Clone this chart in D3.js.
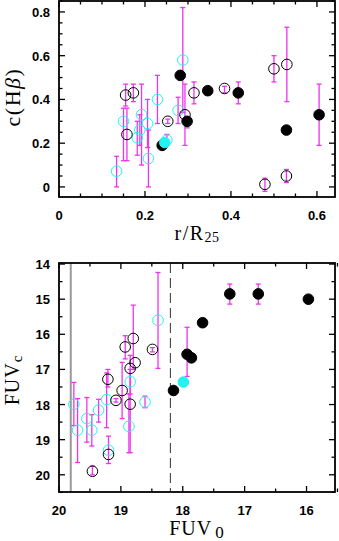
<!DOCTYPE html>
<html>
<head>
<meta charset="utf-8">
<script src="https://cdn.jsdelivr.net/npm/d3@7"></script>
<style>
  body { margin: 0; background: #fff; }
  .tick-label { font-family: "Liberation Sans", Arial, sans-serif; font-size: 13px; font-weight: bold; }
  .axis-title { font-family: "Liberation Serif", "DejaVu Serif", serif; }
</style>
</head>
<body>
<svg id="chart" width="339" height="541"></svg>
<script>
// top panel: [r/R25, c(Hb), errLow, errHigh]
const topCyanOpen = [
  [0.134, 0.072, 0.00, 0.14], [0.150, 0.30, 0.12, 0.36], [0.182, 0.225, 0.145, 0.30],
  [0.188, 0.26, 0.19, 0.33], [0.192, 0.33, 0.10, 0.47], [0.206, 0.29, 0.18, 0.40],
  [0.208, 0.13, 0.00, 0.26], [0.229, 0.40, 0.29, 0.51], [0.251, 0.214, 0.19, 0.24],
  [0.277, 0.35, 0.29, 0.41], [0.288, 0.58, 0.34, 0.82]
];
const topCyanFilled = [[0.246, 0.203, null, null]];
const topBlackOpen = [
  [0.155, 0.42, 0.37, 0.47], [0.158, 0.24, 0.12, 0.36], [0.173, 0.43, 0.39, 0.47],
  [0.253, 0.30, 0.29, 0.31], [0.293, 0.33, 0.19, 0.47], [0.314, 0.43, 0.38, 0.48],
  [0.385, 0.45, 0.43, 0.46], [0.479, 0.012, -0.02, 0.04], [0.500, 0.54, 0.48, 0.60],
  [0.530, 0.56, 0.39, 0.73], [0.529, 0.05, 0.02, 0.08]
];
const topBlackFilled = [
  [0.240, 0.19, null, null], [0.282, 0.51, null, null], [0.298, 0.30, 0.27, 0.32],
  [0.346, 0.44, null, null], [0.417, 0.43, 0.38, 0.48], [0.529, 0.26, null, null],
  [0.605, 0.33, 0.19, 0.47]
];

// bottom panel: [FUV0, FUVc, errLow, errHigh]
const botCyanOpen = [
  [19.76, 17.99, 17.37, 18.60], [19.70, 18.73, 17.83, 19.65], [19.55, 18.40, 17.80, 19.07],
  [19.47, 18.73, 18.29, 19.18], [19.36, 18.16, 17.85, 18.50], [19.23, 17.86, 17.10, 18.66],
  [19.20, 19.30, 18.90, 19.68], [18.85, 17.35, 17.00, 17.70], [18.87, 18.62, 17.70, 19.37],
  [18.61, 17.93, 17.76, 18.09], [18.40, 15.60, 14.24, 16.97]
];
const botCyanFilled = [[17.99, 17.36, 17.30, 17.45]];
const botBlackOpen = [
  [19.46, 19.90, 19.75, 20.00], [19.21, 17.28, 17.00, 17.50], [19.20, 19.42, null, null],
  [19.08, 17.88, 17.83, 17.93], [18.98, 17.60, 16.80, 18.40], [18.93, 16.36, 16.04, 16.70],
  [18.85, 16.97, 16.60, 19.37], [18.85, 17.99, null, null], [18.80, 16.12, 15.17, 17.00],
  [18.77, 16.81, null, null], [18.49, 16.43, 16.38, 16.50]
];
const botBlackFilled = [
  [18.15, 17.60, null, null], [17.93, 16.57, 15.80, 17.20], [17.86, 16.67, null, null],
  [17.68, 15.67, null, null], [17.24, 14.85, 14.57, 15.14], [16.78, 14.85, 14.57, 15.14],
  [15.97, 15.00, null, null]
];
const fuvLimitLine = 19.81;
const fuvDashedLine = 18.2;

const topXTicks = [0, 0.2, 0.4, 0.6];
const topYTicks = [0, 0.2, 0.4, 0.6, 0.8];
const botXTicks = [20, 19, 18, 17, 16];
const botYTicks = [14, 15, 16, 17, 18, 19, 20];

const cyan = "#22f2f2", magenta = "#ee33ee";
const svg = d3.select("#chart");

function drawPanel(opt) {
  const x = d3.scaleLinear().domain(opt.xDomain).range([opt.left, opt.right]);
  const y = d3.scaleLinear().domain(opt.yDomain).range([opt.bottom, opt.top]);
  const g = svg.append("g");

  // ticks on all sides, pointing inward
  const xMinor = d3.range(opt.xMinorStart, opt.xMinorEnd + 1e-9, opt.xMinorStep);
  const yMinor = d3.range(opt.yMinorStart, opt.yMinorEnd + 1e-9, opt.yMinorStep);
  const isMajor = (v, arr) => arr.some(t => Math.abs(t - v) < 1e-6);
  xMinor.forEach(v => {
    const len = isMajor(v, opt.xTicks) ? 6 : 3.5;
    g.append("line").attr("x1", x(v)).attr("x2", x(v)).attr("y1", opt.bottom).attr("y2", opt.bottom - len)
      .attr("stroke", "#000").attr("stroke-width", 1.3);
    g.append("line").attr("x1", x(v)).attr("x2", x(v)).attr("y1", opt.top).attr("y2", opt.top + len)
      .attr("stroke", "#000").attr("stroke-width", 1.3);
  });
  yMinor.forEach(v => {
    const len = isMajor(v, opt.yTicks) ? 6 : 3.5;
    g.append("line").attr("x1", opt.left).attr("x2", opt.left + len).attr("y1", y(v)).attr("y2", y(v))
      .attr("stroke", "#000").attr("stroke-width", 1.3);
    g.append("line").attr("x1", opt.right).attr("x2", opt.right - len).attr("y1", y(v)).attr("y2", y(v))
      .attr("stroke", "#000").attr("stroke-width", 1.3);
  });

  g.selectAll(".xl").data(opt.xTicks).enter().append("text")
    .attr("class", "tick-label").attr("x", d => x(d)).attr("y", opt.bottom + 23)
    .attr("text-anchor", "middle").text(d => opt.xFmt(d));
  g.selectAll(".yl").data(opt.yTicks).enter().append("text")
    .attr("class", "tick-label").attr("x", opt.left - 9).attr("y", d => y(d) + 5)
    .attr("text-anchor", "end").text(d => opt.yFmt(d));

  if (opt.extra) opt.extra(g, x, y);

  const series = [
    { data: opt.cyanOpen, fill: "none", stroke: cyan },
    { data: opt.blackOpen, fill: "none", stroke: "#000" },
    { data: opt.blackFilled, fill: "#000", stroke: "#000" },
    { data: opt.cyanFilled, fill: cyan, stroke: cyan }
  ];
  // error bars first
  series.forEach(s => {
    s.data.filter(d => d[2] !== null).forEach(d => {
      const px = x(d[0]);
      g.append("line").attr("x1", px).attr("x2", px).attr("y1", y(d[2])).attr("y2", y(d[3]))
        .attr("stroke", magenta).attr("stroke-width", 1.3);
      [d[2], d[3]].forEach(v => g.append("line").attr("x1", px - 2.5).attr("x2", px + 2.5)
        .attr("y1", y(v)).attr("y2", y(v)).attr("stroke", magenta).attr("stroke-width", 1.3));
    });
  });
  series.forEach(s => {
    g.selectAll(null).data(s.data).enter().append("circle")
      .attr("cx", d => x(d[0])).attr("cy", d => y(d[1])).attr("r", 5.3)
      .attr("fill", s.fill).attr("stroke", s.stroke).attr("stroke-width", 1);
  });

  g.append("rect").attr("x", opt.left).attr("y", opt.top)
    .attr("width", opt.right - opt.left).attr("height", opt.bottom - opt.top)
    .attr("fill", "none").attr("stroke", "#000").attr("stroke-width", 1.8);
  return g;
}

// top panel
drawPanel({
  left: 59, right: 335, top: 1, bottom: 197,
  xDomain: [0, 0.642], yDomain: [-0.046, 0.85],
  xTicks: topXTicks, yTicks: topYTicks,
  xMinorStart: 0, xMinorEnd: 0.64, xMinorStep: 0.05,
  yMinorStart: 0, yMinorEnd: 0.85, yMinorStep: 0.05,
  xFmt: d => d === 0 ? "0" : d.toFixed(1), yFmt: d => d === 0 ? "0" : d.toFixed(1),
  cyanOpen: topCyanOpen, cyanFilled: topCyanFilled, blackOpen: topBlackOpen, blackFilled: topBlackFilled
});

const yt = svg.append("text").attr("class", "axis-title").attr("font-size", 22)
  .attr("letter-spacing", 1.5)
  .attr("transform", "translate(20,97) rotate(-90)").attr("text-anchor", "middle");
yt.append("tspan").text("c(H");
yt.append("tspan").attr("font-style", "italic").text("β");
yt.append("tspan").text(")");

const xt = svg.append("text").attr("class", "axis-title").attr("font-size", 20)
  .attr("letter-spacing", 1.5)
  .attr("x", 197).attr("y", 240).attr("text-anchor", "middle");
xt.append("tspan").text("r/R");
xt.append("tspan").attr("font-size", 14).attr("letter-spacing", 0.5).attr("dy", 2).text("25");

// bottom panel
drawPanel({
  left: 59, right: 335, top: 263, bottom: 492,
  xDomain: [20, 15.54], yDomain: [20.49, 13.97],
  xTicks: botXTicks, yTicks: botYTicks,
  xMinorStart: 15.5, xMinorEnd: 20, xMinorStep: 0.5,
  yMinorStart: 14, yMinorEnd: 20.5, yMinorStep: 0.5,
  xFmt: d => d, yFmt: d => d,
  cyanOpen: botCyanOpen, cyanFilled: botCyanFilled, blackOpen: botBlackOpen, blackFilled: botBlackFilled,
  extra: (g, x, y) => {
    g.append("line").attr("x1", x(fuvLimitLine)).attr("x2", x(fuvLimitLine)).attr("y1", 263).attr("y2", 492)
      .attr("stroke", "#999").attr("stroke-width", 2);
    g.append("line").attr("x1", x(fuvDashedLine)).attr("x2", x(fuvDashedLine)).attr("y1", 263).attr("y2", 492)
      .attr("stroke", "#333").attr("stroke-width", 1).attr("stroke-dasharray", "10,5");
  }
});

const yb = svg.append("text").attr("class", "axis-title").attr("font-size", 20)
  .attr("letter-spacing", 1)
  .attr("transform", "translate(19,380) rotate(-90)").attr("text-anchor", "middle");
yb.append("tspan").text("FUV");
yb.append("tspan").attr("font-size", 15).attr("dy", 3).text("c");

const xb = svg.append("text").attr("class", "axis-title").attr("font-size", 20)
  .attr("letter-spacing", 1)
  .attr("x", 197).attr("y", 535).attr("text-anchor", "middle");
xb.append("tspan").text("FUV");
xb.append("tspan").attr("font-size", 17).attr("dx", 3).attr("dy", 3).text("0");
</script>
</body>
</html>
